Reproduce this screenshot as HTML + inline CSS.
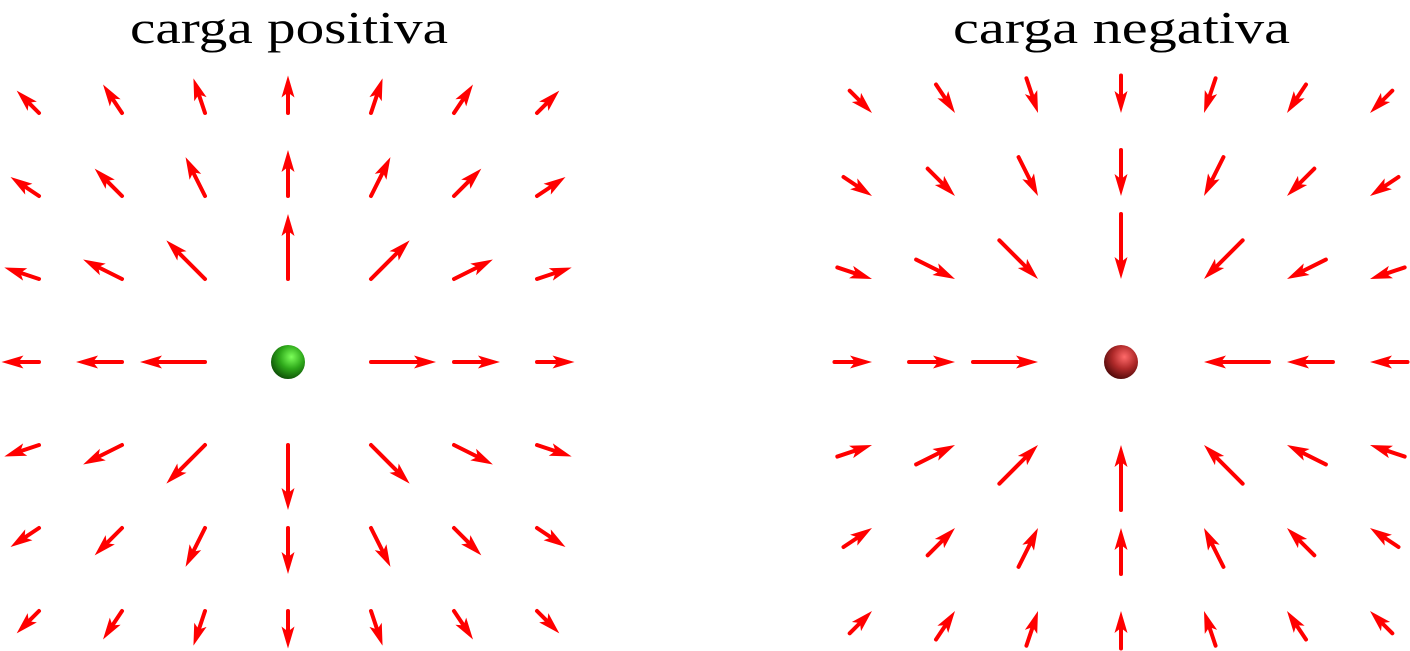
<!DOCTYPE html>
<html><head><meta charset="utf-8"><style>
html,body{margin:0;padding:0;background:#fff;width:1410px;height:651px;overflow:hidden}
</style></head><body>
<svg id="chart" width="1410" height="651" viewBox="0 0 1410 651" xmlns="http://www.w3.org/2000/svg">
<defs>
<radialGradient id="gGreen" cx="0.6" cy="0.35" r="0.7"><stop offset="0" stop-color="#7cff5a"/><stop offset="0.5" stop-color="#2ea81a"/><stop offset="1" stop-color="#0c4a06"/></radialGradient>
<radialGradient id="gRed" cx="0.6" cy="0.35" r="0.7"><stop offset="0" stop-color="#ff6a6a"/><stop offset="0.5" stop-color="#b02a2a"/><stop offset="1" stop-color="#4a0808"/></radialGradient>
</defs>
<text x="130" y="43" textLength="318" lengthAdjust="spacingAndGlyphs" font-family="Liberation Serif, serif" font-size="45">carga positiva</text>
<text x="953" y="43" textLength="337" lengthAdjust="spacingAndGlyphs" font-family="Liberation Serif, serif" font-size="45">carga negativa</text>
<g id="arrows"></g>
<circle cx="288" cy="362" r="17" fill="url(#gGreen)"/>
<circle cx="1121" cy="362" r="17" fill="url(#gRed)"/>
</svg>
<script>
const gridX = [-3,-2,-1,0,1,2,3];
const gridY = [-3,-2,-1,0,1,2,3];
const charges = [1, -1];
const chargeCenterX = [288, 1121];
const chargeCenterY = 362;
const spacing = 83;
const baseLen = 65;
const NS = 'http://www.w3.org/2000/svg';
const g = document.getElementById('arrows');
function sx(c, gx){ return chargeCenterX[c] + gx*spacing; }
function sy(gy){ return chargeCenterY + gy*spacing; }
for (let c=0;c<charges.length;c++){
  for (const gx of gridX){
    for (const gy of gridY){
      if (gx===0 && gy===0) continue;
      const r = Math.hypot(gx,gy);
      const L = baseLen/Math.sqrt(r);
      const ux = gx/r, uy = gy/r;
      let x0,y0,x1,y1;
      const px = sx(c,gx), py = sy(gy);
      if (charges[c]>0){ x0=px; y0=py; x1=px+ux*L; y1=py+uy*L; }
      else { x1=px; y1=py; x0=px+ux*L; y0=py+uy*L; }
      const dx=(x1-x0)/L, dy=(y1-y0)/L;
      const hl=22, hw=6.5;
      const bx=x1-dx*hl, by=y1-dy*hl;
      const grp=document.createElementNS(NS,'g');
      
      
      const ln=document.createElementNS(NS,'line');
      ln.setAttribute('x1',x0);ln.setAttribute('y1',y0);
      ln.setAttribute('x2',bx+dx*4);ln.setAttribute('y2',by+dy*4);
      ln.setAttribute('stroke','#ff0000');ln.setAttribute('stroke-width','4');ln.setAttribute('stroke-linecap','round');
      const pg=document.createElementNS(NS,'polygon');
      pg.setAttribute('points',`${x1},${y1} ${bx-dy*hw},${by+dx*hw} ${bx+dx*5},${by+dy*5} ${bx+dy*hw},${by-dx*hw}`);
      pg.setAttribute('fill','#ff0000');
      grp.appendChild(ln);grp.appendChild(pg);
      g.appendChild(grp);
    }
  }
}
</script>
</body></html>
